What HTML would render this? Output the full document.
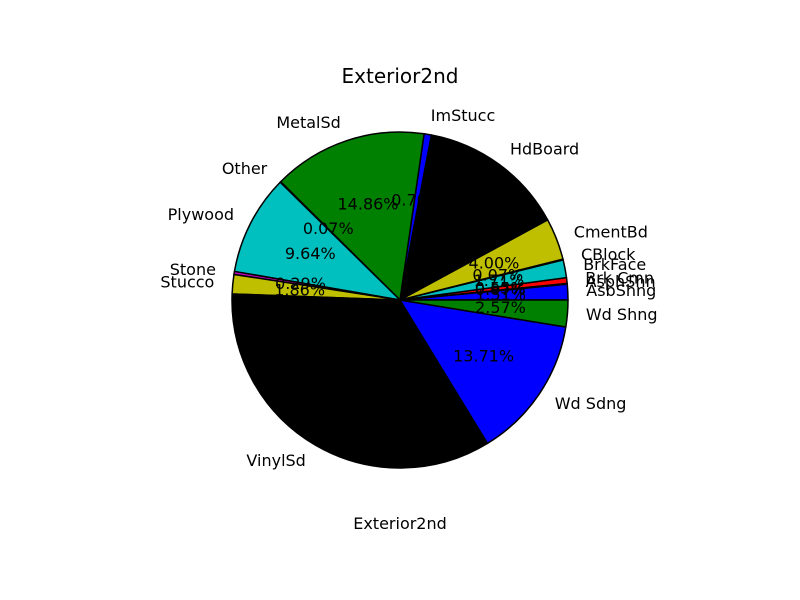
<!DOCTYPE html>
<html><head><meta charset="utf-8"><style>body{margin:0;background:#fff}svg{display:block;font-family:"DejaVu Sans","Liberation Sans",sans-serif}</style></head>
<body>
<svg id="c" width="800" height="600">
<text x="400" y="83" text-anchor="middle" font-size="20">Exterior2nd</text>
<text x="400" y="529" text-anchor="middle" font-size="16">Exterior2nd</text>
<g id="wedges"></g><g id="labels"></g>
</svg>
<script>
const categories=["AsbShng","AsphShn","Brk Cmn","BrkFace","CBlock","CmentBd","HdBoard","ImStucc","MetalSd","Other","Plywood","Stone","Stucco","VinylSd","Wd Sdng","Wd Shng"];
const values=[1.51,0.07,0.55,1.71,0.07,4.00,14.1,0.7,14.86,0.07,9.64,0.29,1.86,34.29,13.71,2.57];
const colors=["#0000ff","#008000","#ff0000","#00bfbf","#bf00bf","#bfbf00","#000000","#0000ff","#008000","#ff0000","#00bfbf","#bf00bf","#bfbf00","#000000","#0000ff","#008000"];
const NS="http://www.w3.org/2000/svg";
const W=document.getElementById('wedges'),L=document.getElementById('labels');
const cx=400,cy=300,R=168;
const total=values.reduce((a,b)=>a+b,0);
let cum=0;
function pt(a,r){return [cx+r*Math.cos(a),cy-r*Math.sin(a)];}
values.forEach((v,i)=>{
  const a0=cum/total*2*Math.PI; cum+=v; const a1=cum/total*2*Math.PI;
  const p0=pt(a0,R),p1=pt(a1,R);
  const large=(a1-a0)>Math.PI?1:0;
  const path=document.createElementNS(NS,'path');
  path.setAttribute('d',`M${cx},${cy}L${p0[0]},${p0[1]}A${R},${R} 0 ${large} 0 ${p1[0]},${p1[1]}Z`);
  path.setAttribute('fill',colors[i]);path.setAttribute('stroke','#000');path.setAttribute('stroke-width','1.5');path.setAttribute('stroke-linejoin','round');
  
  
  W.appendChild(path);
  const am=(a0+a1)/2;
  const pp=pt(am,R*0.6);
  const t=document.createElementNS(NS,'text');
  t.setAttribute('x',pp[0]);t.setAttribute('y',pp[1]+5);t.setAttribute('text-anchor','middle');t.setAttribute('font-size','16');
  t.textContent=(v/total*100).toFixed(2)+'%';
  
  
  L.appendChild(t);
  const lp=pt(am,R*1.11);
  const l=document.createElementNS(NS,'text');
  l.setAttribute('x',lp[0]);l.setAttribute('y',lp[1]+5);
  l.setAttribute('text-anchor',Math.cos(am)>=0?'start':'end');l.setAttribute('font-size','16');
  l.textContent=categories[i];
  
  
  L.appendChild(l);
});
</script>
</body></html>
